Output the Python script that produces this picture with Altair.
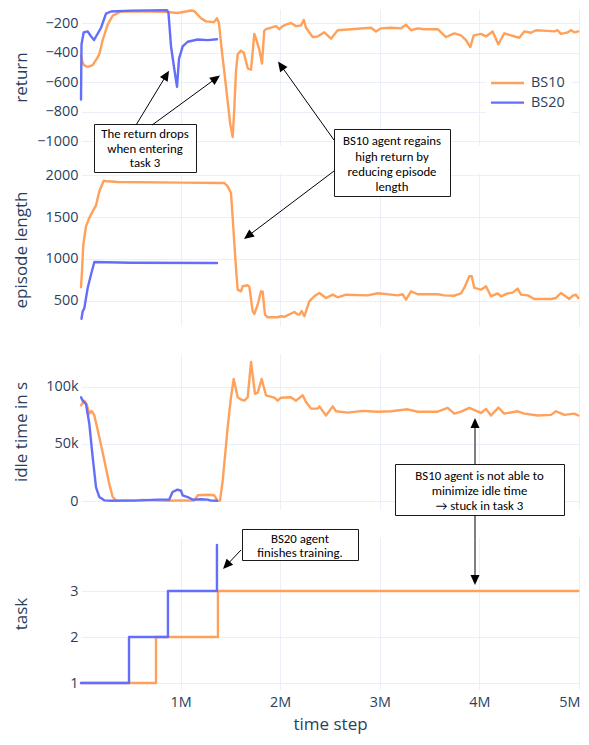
import math
import altair as alt
import pandas as pd

# ---------------- data ----------------
SERIES = ["BS10", "BS20"]
COLORS = ["#FFA15A", "#636EFA"]

RET_BS10_STEPS = [0, 17000, 30000, 67000, 117000, 161000, 184000, 218000, 268000, 318000, 402000, 602000,
                  803000, 870000, 971000, 1054000, 1104000, 1135000, 1205000, 1255000, 1335000, 1365000,
                  1385000, 1413000, 1456000, 1499000, 1523000, 1539000, 1556000, 1573000, 1606000, 1634000,
                  1674000, 1707000, 1740000, 1757000, 1790000, 1817000, 1840000, 1857000, 1908000, 1958000,
                  1991000, 2025000, 2075000, 2108000, 2159000, 2209000, 2236000, 2259000, 2326000, 2376000,
                  2443000, 2510000, 2577000, 2711000, 2912000, 2962000, 3012000, 3112000, 3213000, 3263000,
                  3313000, 3381000, 3447000, 3581000, 3665000, 3748000, 3815000, 3865000, 3909000, 3943000,
                  4016000, 4066000, 4133000, 4190000, 4250000, 4317000, 4401000, 4451000, 4518000, 4568000,
                  4686000, 4752000, 4785000, 4819000, 4887000, 4920000, 4953000, 4993000]
RET_BS10 = [-420, -470, -486, -498, -486, -440, -410, -315, -211, -150, -122, -120, -124, -126, -132, -122,
            -115, -118, -168, -189, -194, -168, -200, -381, -632, -888, -973, -784, -530, -412, -387, -401,
            -507, -517, -274, -306, -380, -475, -253, -242, -232, -221, -242, -221, -206, -200, -221, -216,
            -179, -232, -295, -291, -263, -306, -249, -242, -232, -257, -236, -232, -236, -211, -249, -236,
            -242, -242, -295, -270, -284, -316, -363, -284, -274, -291, -257, -344, -270, -284, -300, -257,
            -266, -249, -253, -257, -249, -274, -263, -249, -263, -257]

RET_BS20_STEPS = [0, 5000, 27000, 67000, 100000, 131000, 201000, 251000, 301000, 502000, 703000, 863000,
                  878000, 904000, 934000, 964000, 984000, 1021000, 1071000, 1172000, 1272000, 1365000]
RET_BS20 = [-719, -346, -263, -257, -290, -315, -232, -136, -122, -116, -114, -113, -130, -359, -500, -633,
            -443, -359, -327, -312, -316, -310]

LEN_BS10_STEPS = [0, 10000, 23000, 50000, 83000, 117000, 151000, 184000, 228000, 268000, 368000, 1004000,
                  1439000, 1473000, 1506000, 1523000, 1556000, 1573000, 1606000, 1623000, 1674000, 1690000,
                  1724000, 1740000, 1774000, 1807000, 1824000, 1847000, 1874000, 1975000, 2008000, 2041000,
                  2142000, 2176000, 2192000, 2216000, 2242000, 2292000, 2342000, 2393000, 2460000, 2527000,
                  2577000, 2661000, 2878000, 2979000, 3112000, 3180000, 3230000, 3263000, 3313000, 3381000,
                  3581000, 3648000, 3748000, 3815000, 3848000, 3899000, 3923000, 3949000, 4016000, 4066000,
                  4116000, 4183000, 4217000, 4284000, 4334000, 4384000, 4418000, 4485000, 4551000, 4719000,
                  4769000, 4819000, 4903000, 4937000, 4970000, 4993000]
LEN_BS10 = [663, 853, 1170, 1389, 1488, 1567, 1639, 1806, 1932, 1925, 1917, 1909, 1905, 1865, 1786, 1488, 893,
            635, 615, 675, 687, 670, 377, 345, 456, 615, 610, 337, 306, 306, 318, 310, 369, 340, 337, 380, 318,
            496, 556, 595, 536, 575, 544, 575, 567, 592, 575, 567, 580, 516, 615, 580, 580, 567, 563, 590, 655,
            794, 794, 655, 635, 675, 556, 590, 556, 590, 600, 647, 575, 567, 524, 524, 536, 595, 524, 563, 575,
            536]

LEN_BS20_STEPS = [5000, 17000, 33000, 67000, 100000, 134000, 502000, 1365000]
LEN_BS20 = [289, 377, 412, 655, 813, 964, 955, 952]

IDLE_BS10_STEPS = [0, 33000, 60000, 83000, 107000, 134000, 184000, 234000, 284000, 318000, 351000, 532000,
                   602000, 870000, 1004000, 1135000, 1172000, 1272000, 1338000, 1372000, 1396000, 1423000,
                   1473000, 1506000, 1533000, 1573000, 1606000, 1640000, 1674000, 1707000, 1747000, 1774000,
                   1814000, 1857000, 1941000, 1975000, 2008000, 2108000, 2159000, 2226000, 2259000, 2309000,
                   2376000, 2393000, 2460000, 2527000, 2560000, 2678000, 2828000, 2979000, 3112000, 3280000,
                   3381000, 3581000, 3681000, 3748000, 3815000, 3899000, 4016000, 4066000, 4116000, 4190000,
                   4250000, 4384000, 4451000, 4585000, 4719000, 4769000, 4853000, 4953000, 4993000]
IDLE_BS10_K = [84, 88, 84, 76.6, 79, 75, 56, 35.7, 15, 3.5, 0.6, 0.2, 1, 0.2, 0.6, 0.3, 5, 5.5, 5, 0.2, 0.5,
               18, 65, 91, 107, 91, 89, 88, 91, 122, 94, 95, 107, 92.7, 90.6, 88, 90.6, 91, 88, 92.7, 86.8,
               81, 81, 83, 75, 83, 78.7, 77.5, 79, 78.3, 78.7, 80.4, 78.3, 78.3, 81.6, 76.6, 78.3, 81.6, 77.2,
               80.8, 75, 81.9, 76.6, 78.7, 76.6, 75, 75.5, 78.7, 75.5, 76.6, 75]

IDLE_BS20_STEPS = [0, 17000, 50000, 83000, 117000, 151000, 184000, 234000, 301000, 602000, 768000, 885000,
                   919000, 969000, 1004000, 1021000, 1071000, 1121000, 1205000, 1272000, 1305000, 1365000]
IDLE_BS20_K = [91, 88, 85, 68, 38.6, 12, 3.5, 0.6, 0.2, 0.6, 1.2, 1.2, 7.9, 10, 9, 5, 3.5, 1.2, 1.5, 1.2,
               0.3, 0.2]

TASK_BS10_STEPS = [0, 753000, 1375000, 4993000]
TASK_BS10 = [1, 2, 3, 3]
TASK_BS20_STEPS = [0, 482000, 873000, 1365000]
TASK_BS20 = [1, 2, 3, 4]

X_TICKS = [1000000, 2000000, 3000000, 4000000, 5000000]
RET_TICKS = [-1000, -800, -600, -400, -200]
LEN_TICKS = [500, 1000, 1500, 2000]
IDLE_TICKS = [0, 50000, 100000]
TASK_TICKS = [1, 2, 3]

# ---------------- layout / style ----------------
TEXT = "#2a3f5f"
GRID = "#EBF0F8"
FONT = "Open Sans"
ANN_FONT = "Carlito, Lato, sans-serif"
W = 498
H = [136, 153, 155, 153]
SP = 28
X_DOMAIN = [0, 5000000]
Y_DOMAINS = [[-1027, -105], [202, 2024], [-7000, 128900], [0.848, 4.174]]
PAGE_LEFT = 80
P_TOPS = [8]
for _h in H[:-1]:
    P_TOPS.append(P_TOPS[-1] + _h + SP)
P4_TOP = P_TOPS[3]

# reference pixel -> value maps (from the reference's gridlines), used to place annotations
REF_VALUE = [
    lambda y: -200 - (y - 15) * 800 / 126,
    lambda y: 2000 - (y - 177) * 1500 / 126,
    lambda y: (504 - y) * 100000 / 114,
    lambda y: 3 - (y - 594) / 46,
]

ONE = alt.Data(values=[{}])


def map_x(x):
    return x - PAGE_LEFT


def panel_px(v, p):
    lo, hi = Y_DOMAINS[p]
    return P_TOPS[p] + (hi - v) / (hi - lo) * H[p]


def map_y(y, p, origin):
    """reference page y (read in panel p's band) -> y relative to the origin of the drawing panel"""
    return panel_px(REF_VALUE[p](y), p) - P_TOPS[origin]


def frame(series_list, i, ytitle, yticks, bottom, extra, interp="linear", yfmt="d", ylabel_expr=None):
    if bottom:
        x_axis = alt.Axis(values=X_TICKS, format="~s", labelFlush=True, labelFlushOffset=1,
                          labelPadding=5, title="time step", titlePadding=8)
    else:
        x_axis = alt.Axis(values=X_TICKS, labels=False, title=None)
    yargs = dict(values=yticks, title=ytitle, titleX=-60, titleY=H[i] / 2, titleAngle=270,
                 titleAlign="center", titleBaseline="middle", labelPadding=3)
    if ylabel_expr:
        yargs["labelExpr"] = ylabel_expr
    else:
        yargs["format"] = yfmt
    y_axis = alt.Axis(**yargs)
    layers = []
    for steps, vals, name in series_list:
        df = pd.DataFrame({"step": steps, "value": vals, "series": name})
        layers.append(
            alt.Chart(df).mark_line(strokeWidth=2.4, strokeJoin="round", strokeCap="round",
                                    interpolate=interp).encode(
                x=alt.X("step:Q", scale=alt.Scale(domain=X_DOMAIN, nice=False, zero=False), axis=x_axis),
                y=alt.Y("value:Q", scale=alt.Scale(domain=Y_DOMAINS[i], nice=False, zero=False), axis=y_axis),
                color=alt.Color("series:N", scale=alt.Scale(domain=SERIES, range=COLORS), legend=None),
            )
        )
    return alt.layer(*layers, *extra).properties(width=W, height=H[i])


# ---------------- manual legend (panel 1) ----------------
LEG_ROWS = [79, 100]
legend = [alt.Chart(ONE).mark_rect(fill="white").encode(
    x=alt.value(map_x(485)), x2=alt.value(map_x(571)),
    y=alt.value(map_y(LEG_ROWS[0], 0, 0) - 13), y2=alt.value(map_y(LEG_ROWS[1], 0, 0) + 13))]
for k, (name, col) in enumerate(zip(SERIES, COLORS)):
    yy = map_y(LEG_ROWS[k], 0, 0)
    legend.append(alt.Chart(ONE).mark_rule(color=col, strokeWidth=2.4).encode(
        x=alt.value(map_x(490)), x2=alt.value(map_x(523)), y=alt.value(yy), y2=alt.value(yy)))
    legend.append(alt.Chart(ONE).mark_text(font=FONT, fontSize=14.4, color=TEXT, align="left",
                                           baseline="middle").encode(
        x=alt.value(map_x(530)), y=alt.value(yy), text=alt.value(name)))

# ---------------- annotations (reference page coordinates + panel band they are read in) ----------------
ANN_BOXES = [
    ((93, 123, 195, 174), 0, ["The return drops", "when entering", "task 3"], [134, 149.5, 165]),
    ((333, 131, 449, 198), 1, ["BS10 agent regains", "high return by", "reducing episode", "length"],
     [143, 158.5, 174, 189]),
    ((394, 467, 563, 518), 2, ["BS10 agent is not able to", "minimize idle time", "\u2192 stuck in task 3"],
     [478.5, 493.5, 509]),
    ((241, 532, 357, 563), 3, ["BS20 agent", "finishes training."], [541.5, 556]),
]
ARROWS = [((135, 124, 0), (168, 66, 0)), ((151, 124, 0), (219, 71, 0)), ((333, 142, 1), (277, 56, 0)),
          ((333, 173, 1), (243, 241, 1)), ((474, 467, 2), (474, 421, 2)), ((474, 518, 2), (474, 588, 3)),
          ((240, 553, 3), (222, 572, 3))]
HEAD = "M0,0L-0.45,1L0.45,1Z"

ann = []
for (x0, y0, x1, y1), p, lines, ly in ANN_BOXES:
    ann.append(alt.Chart(ONE).mark_rect(fill="white", stroke="#1a1a1a", strokeWidth=1).encode(
        x=alt.value(round(map_x(x0)) + 0.5), x2=alt.value(round(map_x(x1)) + 0.5),
        y=alt.value(round(map_y(y0, p, 3)) + 0.5), y2=alt.value(round(map_y(y1, p, 3)) + 0.5)))
    cx = map_x((x0 + x1) / 2)
    for t, yy in zip(lines, ly):
        ann.append(alt.Chart(ONE).mark_text(font=ANN_FONT, fontSize=12.8, color="black", align="center",
                                            baseline="middle").encode(
            x=alt.value(cx), y=alt.value(map_y(yy, p, 3)), text=alt.value(t)))
for (sx, sy, sp), (tx, ty, tp) in ARROWS:
    sx, sy, tx, ty = map_x(sx), map_y(sy, sp, 3), map_x(tx), map_y(ty, tp, 3)
    dx, dy = tx - sx, ty - sy
    L = math.hypot(dx, dy)
    bx, by = tx - dx / L * 8, ty - dy / L * 8
    ang = math.degrees(math.atan2(dx, -dy)) % 360
    ann.append(alt.Chart(ONE).mark_rule(color="black", strokeWidth=1).encode(
        x=alt.value(sx), x2=alt.value(bx), y=alt.value(sy), y2=alt.value(by)))
    ann.append(alt.Chart(ONE).mark_point(shape=HEAD, filled=True, color="black", size=400, opacity=1,
                                         strokeWidth=0, angle=ang).encode(
        x=alt.value(tx), y=alt.value(ty)))

p1 = frame([(RET_BS10_STEPS, RET_BS10, "BS10"), (RET_BS20_STEPS, RET_BS20, "BS20")], 0,
           "return", RET_TICKS, False, legend)
p2 = frame([(LEN_BS10_STEPS, LEN_BS10, "BS10"), (LEN_BS20_STEPS, LEN_BS20, "BS20")], 1,
           "episode length", LEN_TICKS, False, [])
p3 = frame([(IDLE_BS10_STEPS, [v * 1000 for v in IDLE_BS10_K], "BS10"),
            (IDLE_BS20_STEPS, [v * 1000 for v in IDLE_BS20_K], "BS20")], 2,
           "idle time in s", IDLE_TICKS, False, [],
           ylabel_expr="datum.value == 0 ? '0' : format(datum.value, '~s')")
p4 = frame([(TASK_BS10_STEPS, TASK_BS10, "BS10"), (TASK_BS20_STEPS, TASK_BS20, "BS20")], 3,
           "task", TASK_TICKS, True, ann, interp="step-after")

chart = alt.vconcat(p1, p2, p3, p4, spacing=SP, bounds="flush").properties(
    padding={"left": 4, "top": 0, "right": 0, "bottom": 5}, background="white"
).configure_view(stroke=None).configure_axis(
    gridColor=GRID, gridWidth=1, domain=False, ticks=False,
    labelFont=FONT, labelFontSize=14.4, labelColor=TEXT,
    titleFont=FONT, titleFontSize=17, titleColor=TEXT, titleFontWeight="normal",
)

chart.save("out.html", embed_options={"renderer": "svg", "actions": False})
